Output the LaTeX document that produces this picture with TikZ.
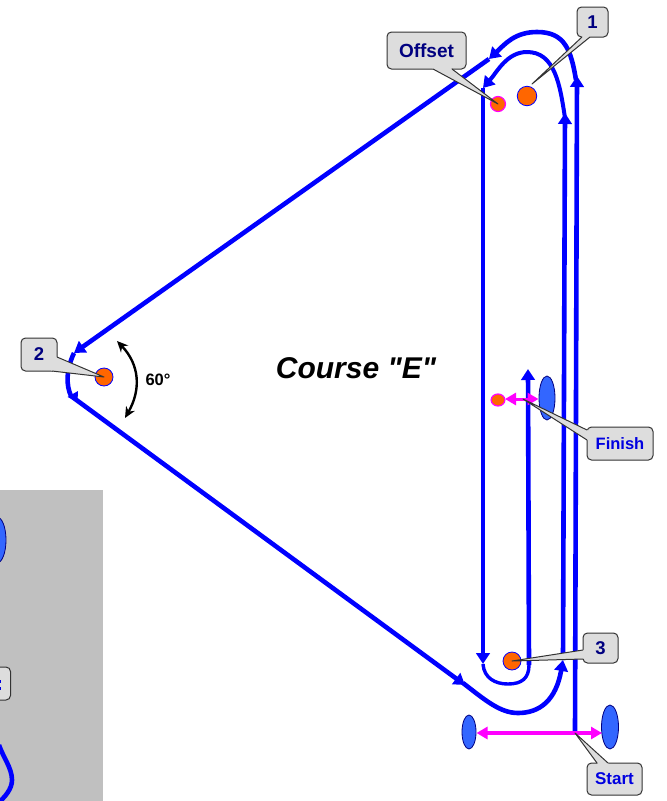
\documentclass[tikz,border=0pt]{standalone}
\usepackage{fontspec}
\setmainfont{Liberation Sans}
\newfontfamily\titlefont{Liberation Sans}
\usetikzlibrary{arrows.meta}
\definecolor{course}{HTML}{0000FF}
\definecolor{mk}{HTML}{FF00FF}
\definecolor{buoy}{HTML}{3366FF}
\definecolor{dot}{HTML}{FF6600}
\definecolor{navytxt}{HTML}{000080}
\definecolor{bluetxt}{HTML}{0000E0}
\definecolor{box}{HTML}{DDDDDD}
\definecolor{panel}{HTML}{C0C0C0}
\tikzset{
  x=1pt,y=-1pt,
  leg/.style={draw=course,line width=4.6pt,line join=round,-{Triangle[length=11pt,width=13.5pt]}},
  legplain/.style={draw=course,line width=4.6pt,line join=round},
  marker/.style={draw=mk,line width=3.4pt,{Triangle[length=11pt,width=12pt]}-{Triangle[length=11pt,width=12pt]}},
  mark dot/.style={circle,draw=course,fill=dot,line width=.8pt,minimum size=#1,inner sep=0pt},
  buoy shape/.style={draw=navytxt,fill=buoy,line width=.8pt},
  callbox/.style={draw=black!80,fill=box,line width=1pt,rounded corners=4.5pt,inner sep=0pt},
  calltext/.style={font=\bfseries,inner sep=0pt},
}
\newcommand{\callout}[8]{%
  \node[callbox,minimum width=#3pt,minimum height=#4pt] (#1box) at (#2) {};
  \path[fill=box] #8 -- (#1box.center) -- cycle;
  \draw[black!80,line width=1pt,line join=round] #8;
  \node[calltext,text=#6] (#1) at (#1box.center) {\fontsize{#5}{#5}\selectfont #7};
}
\begin{document}
\begin{tikzpicture}
\useasboundingbox (0,0) rectangle (667,801);
\begin{scope}
\clip (0,0) rectangle (667,801);
% cropped panel at lower left
\fill[panel] (0,490) rectangle (103,801);
\draw[buoy shape] (-3,540) ellipse [x radius=9,y radius=23];
\node[callbox,minimum width=30pt,minimum height=33pt] (cropbox) at (-4.5,683.5) {};
\fill[bluetxt] (0,680) rectangle (1.2,683);
\fill[bluetxt] (0,687) rectangle (1.2,690);
\draw[legplain] (-1,745) .. controls (3,757) and (12,768) .. (12,780) .. controls (12,789) and (5,797) .. (-2,803);

% marks
\node[mark dot=19.5pt] (m1) at (527,96) {};
\node[mark dot=18pt] (m2) at (104,377) {};
\node[mark dot=18pt] (m3) at (512,661) {};
\node[circle,draw=mk,fill=dot,line width=1.2pt,minimum size=15pt,inner sep=0pt] (off) at (498,104) {};
\node[circle,draw=mk,fill=dot,line width=1.2pt,minimum size=12pt,inner sep=0pt,xscale=1.15] (offf) at (498,400) {};

% buoys
\draw[buoy shape] (469,732) ellipse [x radius=7,y radius=17];
\draw[buoy shape] (610,727) ellipse [x radius=8.5,y radius=22];
\draw[buoy shape] (547,398) ellipse [x radius=8,y radius=22];

% course coordinates
\coordinate (startpt) at (575,733);
\coordinate (outerTop) at (577,76);
\coordinate (longA) at (489,59);
\coordinate (longB) at (74,353);
\coordinate (downA) at (71,396);
\coordinate (downB) at (465,685);
\coordinate (midB) at (563,660);
\coordinate (midT) at (565,113);
\coordinate (leftT) at (483,88);
\coordinate (leftB) at (483,664);
\coordinate (finB) at (529,665);
\coordinate (finT) at (528,369);

% legs
\draw[leg] (startpt) -- (outerTop);
\draw[leg] (576,80) .. controls (571,50) and (565,32) .. (537,32) .. controls (515,32) and (505,44) .. (longA);
\draw[leg] (longA) -- (longB);
\draw[legplain] (longB) .. controls (66,370) and (66,385) .. (downA);
\fill[course] (67.5,397) -- (78,391) -- (77.5,401.5) -- cycle;
\draw[leg] (downA) -- (downB);
\draw[leg] (463,683) .. controls (485,700) and (500,713) .. (518,713) .. controls (540,713) and (556,700) .. (midB);
\draw[leg] (midB) -- (midT);
\draw[leg,line width=4pt] (565,118) .. controls (560,85) and (555,52) .. (527,52) .. controls (507,52) and (497,72) .. (leftT);
\draw[leg] (leftT) -- (leftB);
\draw[legplain,line width=3.4pt] (leftB) .. controls (484,678) and (495,684) .. (508,684) .. controls (522,684) and (529,678) .. (finB);
\draw[leg] (finB) -- (finT);

% start and finish lines
\coordinate (startL) at (476.5,733);
\coordinate (startR) at (602,733);
\draw[marker] (startL) -- (startR);
\coordinate (finL) at (505,399);
\coordinate (finR) at (538.5,399);
\draw[marker,line width=3pt] (finL) -- (finR);

% 60 degree angle
\coordinate (angT) at (117,341);
\coordinate (angB) at (125,418);
\draw[black,line width=2.4pt,{Stealth[length=11pt,width=10pt]}-{Stealth[length=11pt,width=10pt]}] (angT) .. controls (140,365) and (141,390) .. (angB);
\node[font=\bfseries\fontsize{16.5}{16.5}\selectfont,inner sep=0pt] (ang) at (158,379.5) {60°};

% title
\node[font=\titlefont\bfseries\itshape\fontsize{30}{30}\selectfont,inner sep=0pt] (title) at (356,368) {Course "E"};

% callouts
\callout{c1}{592.5,22}{31}{30}{18.5}{navytxt}{1}{(582,37) -- (532,84) -- (590,37)}
\callout{coff}{426.5,50.5}{79}{37}{19}{navytxt}{Offset}{(433,69) -- (off.center) -- (452,69)}
\callout{c2}{39,354.5}{36}{33}{18.5}{navytxt}{2}{(57,357) -- (m2.center) -- (52,371)}
\callout{c3}{600.5,648}{35}{30}{18.5}{navytxt}{3}{(583,650) -- (m3.center) -- (583,659)}
\callout{cfin}{620,443.5}{66}{33}{16.5}{bluetxt}{Finish}{(587,430) -- (523,399) -- (587,440)}
\callout{cstart}{614.5,779}{55}{32}{17}{bluetxt}{Start}{(597,763) -- (startpt) -- (608,763)}
\end{scope}
\end{tikzpicture}
\end{document}
